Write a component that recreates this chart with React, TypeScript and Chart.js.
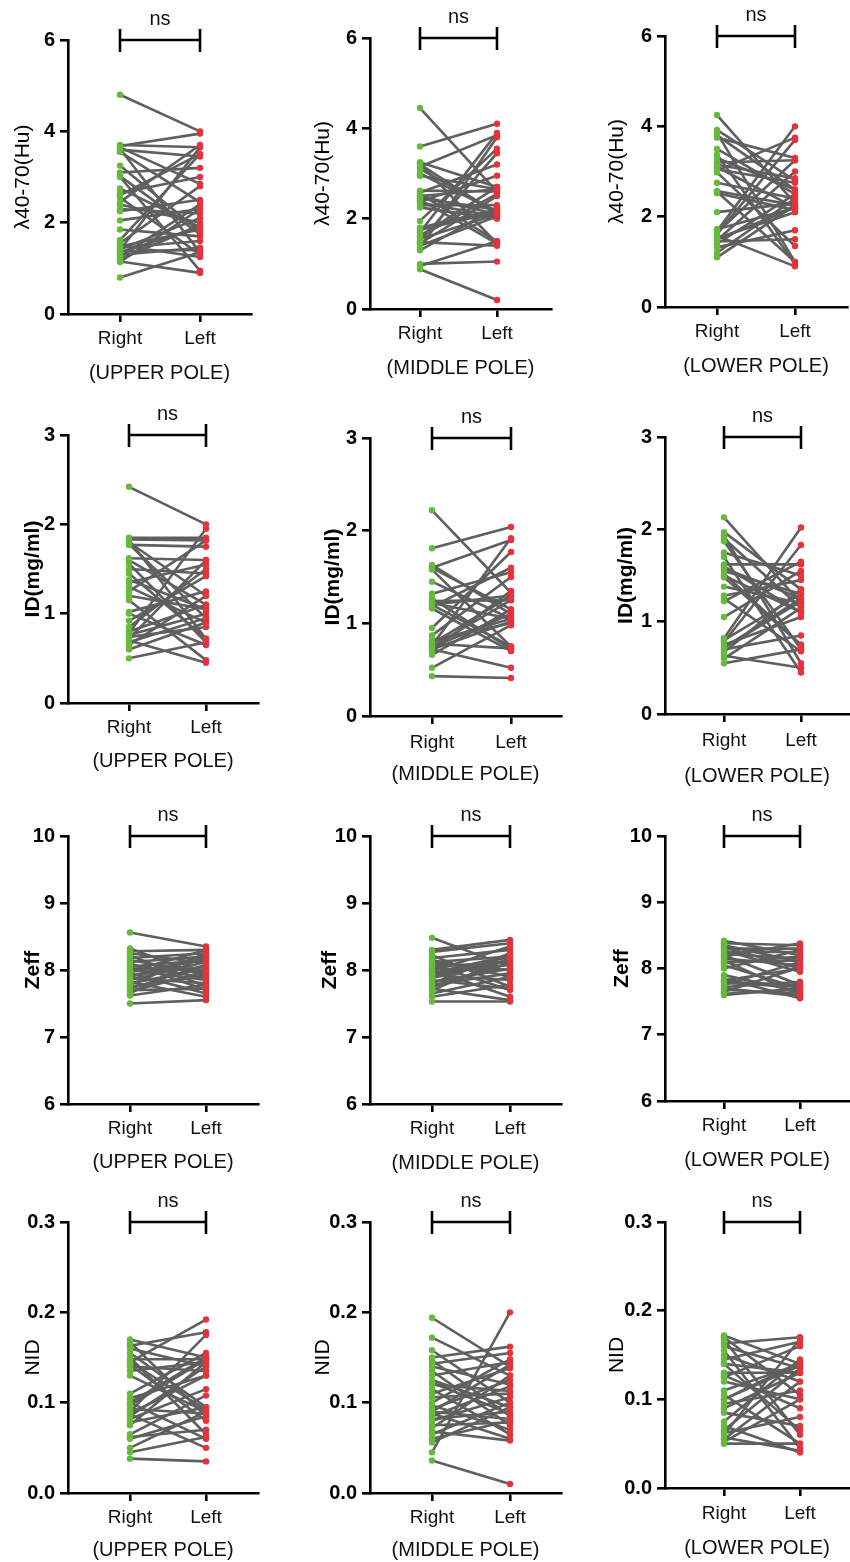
import React, { useEffect, useRef } from 'react';
import { Chart, registerables } from 'chart.js';

Chart.register(...registerables);

const categories = ['Right', 'Left'];
const poleLabels = ['(UPPER POLE)', '(MIDDLE POLE)', '(LOWER POLE)'];
const yTitles = ['λ40-70(Hu)', 'ID(mg/ml)', 'Zeff', 'NID'];
const sigLabel = 'ns';

const lambdaTicks = [0, 2, 4, 6];
const idTicks = [0, 1, 2, 3];
const zeffTicks = [6, 7, 8, 9, 10];
const nidTicks = [0, 0.1, 0.2, 0.3];

// λ40-70(Hu)
const lambdaUpperRight = [4.8, 3.7, 3.68, 3.65, 3.62, 3.6, 3.55, 3.25, 3.1, 3.0, 2.75, 2.65, 2.55, 2.45, 2.3, 2.25, 2.05, 1.85, 1.62, 1.55, 1.5, 1.45, 1.42, 1.4, 1.35, 1.3, 1.25, 1.2, 1.15, 1.14, 2.6, 3.02, 2.4, 1.48, 1.38, 0.8];
const lambdaUpperLeft = [4.0, 3.65, 3.95, 2.85, 1.35, 3.45, 2.45, 1.8, 3.2, 0.95, 1.9, 3.0, 1.3, 3.7, 2.2, 2.5, 2.3, 1.7, 3.5, 2.8, 1.25, 1.6, 2.1, 3.65, 1.9, 1.45, 2.4, 1.95, 0.9, 2.3, 3.5, 1.75, 2.0, 1.85, 1.4, 1.35];
const lambdaMiddleRight = [4.45, 3.6, 3.25, 3.22, 3.2, 3.15, 3.0, 2.95, 2.62, 2.58, 2.55, 2.5, 2.45, 2.42, 2.38, 2.35, 2.3, 1.95, 1.8, 1.75, 1.7, 1.62, 1.55, 1.5, 1.48, 1.45, 1.4, 1.35, 1.3, 1.0, 0.95, 0.88, 2.5, 1.6, 3.1, 2.25];
const lambdaMiddleLeft = [2.6, 4.1, 2.7, 1.45, 2.1, 3.85, 2.15, 2.65, 2.6, 3.2, 1.5, 2.1, 2.2, 1.45, 2.95, 2.05, 2.3, 3.55, 2.2, 2.15, 3.9, 2.7, 2.1, 3.45, 1.4, 2.5, 2.05, 3.8, 2.25, 1.05, 1.5, 0.2, 2.65, 2.55, 2.15, 2.0];
const lambdaLowerRight = [4.25, 3.92, 3.85, 3.8, 3.75, 3.5, 3.38, 3.2, 3.15, 3.1, 3.02, 2.98, 2.75, 2.57, 2.52, 2.1, 1.72, 1.68, 1.62, 1.58, 1.52, 1.48, 1.45, 1.4, 1.32, 1.2, 1.1, 3.3, 2.55, 1.65, 3.05, 1.5];
const lambdaLowerLeft = [2.3, 2.8, 1.0, 2.6, 3.3, 2.5, 0.95, 3.25, 2.85, 2.2, 3.75, 1.35, 2.4, 2.25, 2.15, 2.3, 2.2, 4.0, 3.7, 0.9, 2.1, 3.0, 1.5, 2.5, 1.7, 2.4, 2.25, 2.6, 1.0, 3.25, 2.75, 2.2];

// ID(mg/ml)
const idUpperRight = [2.42, 1.85, 1.83, 1.82, 1.8, 1.78, 1.77, 1.62, 1.56, 1.5, 1.38, 1.35, 1.3, 1.25, 1.15, 1.02, 1.0, 0.92, 0.8, 0.78, 0.76, 0.74, 0.72, 0.7, 0.65, 0.6, 0.5, 1.2, 0.85, 1.45, 0.68, 1.6];
const idUpperLeft = [2.0, 1.85, 1.82, 0.72, 1.2, 0.95, 1.75, 1.6, 0.68, 1.45, 1.05, 1.55, 0.9, 1.82, 0.48, 1.25, 0.65, 1.42, 1.1, 1.95, 1.0, 0.85, 1.6, 0.45, 1.2, 0.9, 0.68, 1.05, 1.5, 0.72, 0.95, 1.1];
const idMiddleRight = [2.22, 1.81, 1.63, 1.6, 1.58, 1.45, 1.32, 1.27, 1.24, 1.2, 1.18, 1.16, 0.95, 0.87, 0.82, 0.8, 0.78, 0.76, 0.74, 0.72, 0.7, 0.66, 0.52, 0.43, 1.22, 0.75, 1.2, 0.72, 1.6, 0.78];
const idMiddleLeft = [1.33, 2.04, 1.1, 1.9, 0.75, 1.05, 1.55, 0.72, 1.25, 1.3, 1.6, 0.7, 1.77, 1.5, 1.0, 1.05, 0.73, 1.92, 1.1, 1.02, 1.35, 1.15, 0.98, 0.41, 1.05, 1.25, 0.75, 0.52, 1.15, 1.3];
const idLowerRight = [2.13, 1.97, 1.93, 1.9, 1.87, 1.75, 1.7, 1.62, 1.58, 1.55, 1.5, 1.48, 1.38, 1.28, 1.25, 1.22, 1.05, 0.82, 0.8, 0.78, 0.75, 0.72, 0.7, 0.67, 0.63, 0.6, 0.55, 1.6, 0.72, 1.52];
const idLowerLeft = [1.2, 1.35, 0.55, 1.15, 0.7, 1.5, 0.45, 1.62, 1.25, 1.3, 1.1, 0.75, 1.2, 1.45, 0.68, 1.65, 1.55, 2.02, 1.3, 1.83, 1.05, 1.22, 0.85, 1.35, 0.5, 1.15, 0.7, 1.1, 1.25, 0.75];

// Zeff
const zeffUpperRight = [8.56, 8.32, 8.28, 8.25, 8.22, 8.18, 8.15, 8.12, 8.1, 8.05, 8.02, 8.0, 7.98, 7.95, 7.92, 7.9, 7.88, 7.85, 7.82, 7.8, 7.78, 7.75, 7.72, 7.7, 7.68, 7.65, 7.62, 7.5, 8.08, 7.97];
const zeffUpperLeft = [8.35, 7.9, 8.3, 8.1, 7.75, 8.25, 7.95, 8.2, 7.7, 8.15, 8.0, 7.85, 8.3, 7.65, 8.05, 8.18, 7.8, 8.12, 7.6, 8.02, 8.25, 7.92, 8.08, 7.72, 7.98, 8.22, 7.78, 7.55, 7.88, 8.15];
const zeffMiddleRight = [8.48, 8.3, 8.27, 8.22, 8.18, 8.15, 8.12, 8.08, 8.05, 8.02, 8.0, 7.98, 7.95, 7.92, 7.9, 7.88, 7.85, 7.82, 7.8, 7.78, 7.75, 7.72, 7.7, 7.65, 7.6, 7.53, 8.1, 7.95];
const zeffMiddleLeft = [8.05, 8.45, 8.4, 7.75, 8.3, 7.9, 8.2, 7.7, 8.12, 8.0, 7.6, 8.35, 8.08, 7.85, 8.2, 8.15, 7.72, 8.02, 8.25, 7.95, 8.1, 7.55, 8.18, 7.9, 7.78, 7.53, 8.0, 8.22];
const zeffLowerRight = [8.42, 8.38, 8.35, 8.32, 8.3, 8.27, 8.25, 8.22, 8.2, 8.18, 8.15, 8.12, 8.1, 8.05, 8.0, 7.9, 7.85, 7.82, 7.78, 7.75, 7.72, 7.7, 7.68, 7.65, 7.62, 7.6, 8.08, 7.8];
const zeffLowerLeft = [8.2, 8.35, 8.1, 8.0, 8.3, 7.95, 8.25, 8.15, 7.75, 8.38, 8.05, 7.6, 8.12, 7.7, 8.28, 7.65, 7.55, 8.0, 7.72, 8.1, 7.8, 7.58, 7.62, 8.02, 7.68, 7.7, 8.18, 7.75];

// NID
const nidUpperRight = [0.17, 0.167, 0.163, 0.16, 0.155, 0.15, 0.148, 0.145, 0.142, 0.14, 0.135, 0.13, 0.11, 0.105, 0.1, 0.097, 0.093, 0.09, 0.087, 0.085, 0.082, 0.078, 0.075, 0.065, 0.062, 0.06, 0.05, 0.045, 0.038, 0.088, 0.145, 0.1];
const nidUpperLeft = [0.15, 0.085, 0.178, 0.14, 0.095, 0.065, 0.148, 0.192, 0.08, 0.135, 0.145, 0.09, 0.155, 0.13, 0.06, 0.148, 0.088, 0.175, 0.05, 0.14, 0.115, 0.095, 0.145, 0.108, 0.07, 0.085, 0.09, 0.062, 0.035, 0.13, 0.092, 0.15];
const nidMiddleRight = [0.194, 0.172, 0.158, 0.15, 0.147, 0.143, 0.14, 0.135, 0.13, 0.125, 0.122, 0.115, 0.11, 0.106, 0.1, 0.097, 0.093, 0.09, 0.088, 0.085, 0.082, 0.08, 0.075, 0.072, 0.068, 0.065, 0.06, 0.056, 0.045, 0.036, 0.12, 0.09];
const nidMiddleLeft = [0.14, 0.13, 0.1, 0.162, 0.085, 0.155, 0.12, 0.075, 0.145, 0.095, 0.088, 0.065, 0.138, 0.11, 0.148, 0.07, 0.125, 0.082, 0.06, 0.118, 0.09, 0.106, 0.078, 0.13, 0.058, 0.1, 0.08, 0.095, 0.2, 0.01, 0.113, 0.142];
const nidLowerRight = [0.172, 0.17, 0.167, 0.163, 0.16, 0.155, 0.15, 0.145, 0.14, 0.13, 0.127, 0.125, 0.12, 0.11, 0.105, 0.1, 0.095, 0.09, 0.085, 0.075, 0.07, 0.065, 0.062, 0.06, 0.057, 0.055, 0.052, 0.05, 0.14, 0.1];
const nidLowerLeft = [0.14, 0.105, 0.06, 0.17, 0.135, 0.045, 0.12, 0.165, 0.065, 0.13, 0.09, 0.16, 0.1, 0.14, 0.05, 0.142, 0.11, 0.13, 0.07, 0.145, 0.04, 0.135, 0.08, 0.168, 0.042, 0.12, 0.1, 0.05, 0.13, 0.138];

const FONT = '"Liberation Sans", Arial, Helvetica, sans-serif';
const GREEN = '#65ba3e';
const RED = '#e5323b';
const GREY = '#5f5f5f';

const X_LABEL_SIZE = 19;
const POLE_SIZE = 20;
const Y_TICK_SIZE = 20;
const Y_TITLE_SIZE = 21;
const NS_SIZE = 20;

type Geom = {
  axisX: number; yTop: number; yBottom: number; xR: number; xL: number; axisEnd: number;
  labelDy: number; titleDy: number; yTitleX: number;
};

type PanelProps = {
  right: number[]; left: number[]; ticks: number[]; decimals: number;
  yTitle: string; yTitleBold: boolean; pole: string; g: Geom;
};

const TOP_PAD = 40;
const Y_W = 68;
const X_H = 84;

function Panel({ right, left, ticks, decimals, yTitle, yTitleBold, pole, g }: PanelProps) {
  const ref = useRef<HTMLCanvasElement>(null);
  const width = g.axisEnd - g.axisX + Y_W + 4;
  const height = g.yBottom - g.yTop + TOP_PAD + X_H;
  const canvasLeft = g.axisX - Y_W;
  const canvasTop = g.yTop - TOP_PAD;

  useEffect(() => {
    if (!ref.current) return;
    const unit = g.xL - g.xR;
    const xMin = 1 - (g.xR - g.axisX) / unit;
    const xMax = 1 + (g.axisEnd - g.xR) / unit;
    const yMin = ticks[0];
    const yMax = ticks[ticks.length - 1];

    const pairSets = right.map((r, i) => ({
      type: 'line' as const,
      data: [{ x: 1, y: r }, { x: 2, y: left[i] }],
      borderColor: GREY,
      borderWidth: 2.6,
      pointRadius: 0,
      order: 2,
    }));

    const bracket = {
      id: 'bracket',
      afterDraw(chart: any) {
        const ctx = chart.ctx;
        const xs = chart.scales.x;
        const ys = chart.scales.y;
        const y = ys.getPixelForValue(yMax);
        const x1 = xs.getPixelForValue(1);
        const x2 = xs.getPixelForValue(2);
        ctx.save();
        ctx.strokeStyle = '#000';
        ctx.lineWidth = 2.6;
        ctx.beginPath();
        ctx.moveTo(x1, y); ctx.lineTo(x2, y);
        ctx.moveTo(x1, y - 11); ctx.lineTo(x1, y + 12);
        ctx.moveTo(x2, y - 11); ctx.lineTo(x2, y + 12);
        ctx.stroke();
        ctx.fillStyle = '#111';
        ctx.font = `${NS_SIZE}px ${FONT}`;
        ctx.textAlign = 'center';
        ctx.textBaseline = 'middle';
        ctx.fillText(sigLabel, (x1 + x2) / 2, y - 21);
        ctx.restore();
      },
    };

    const chart = new Chart(ref.current, {
      type: 'scatter',
      data: {
        datasets: [
          { type: 'scatter', data: right.map((v) => ({ x: 1, y: v })), backgroundColor: GREEN, borderWidth: 0, pointRadius: 3.2, order: 0 } as any,
          { type: 'scatter', data: left.map((v) => ({ x: 2, y: v })), backgroundColor: RED, borderWidth: 0, pointRadius: 3.2, order: 0 } as any,
          ...pairSets,
        ],
      },
      options: {
        responsive: false,
        animation: false,
        devicePixelRatio: 1,
        layout: { padding: { top: TOP_PAD, left: 0, right: 4, bottom: 0 } },
        plugins: { legend: { display: false }, tooltip: { enabled: false } },
        scales: {
          x: {
            type: 'linear',
            min: xMin,
            max: xMax,
            afterBuildTicks: (s: any) => { s.ticks = [{ value: 1 }, { value: 2 }]; },
            afterFit: (s: any) => { s.height = X_H; },
            ticks: {
              callback: (v: any) => (v === 1 ? categories[0] : v === 2 ? categories[1] : ''),
              font: { family: FONT, size: X_LABEL_SIZE },
              color: '#111',
              padding: g.labelDy - 8 - X_LABEL_SIZE * 0.6,
              maxRotation: 0,
              autoSkip: false,
            },
            grid: { display: true, drawOnChartArea: false, drawTicks: true, tickLength: 8, color: '#000', lineWidth: 2.6 },
            border: { display: true, color: '#000', width: 2.6 },
            title: {
              display: true,
              text: pole,
              font: { family: FONT, size: POLE_SIZE },
              color: '#111',
              padding: { top: 0, bottom: X_H - g.titleDy - POLE_SIZE * 0.6 },
            },
          },
          y: {
            type: 'linear',
            min: yMin,
            max: yMax,
            afterBuildTicks: (s: any) => { s.ticks = ticks.map((v) => ({ value: v })); },
            afterFit: (s: any) => { s.width = Y_W; },
            ticks: {
              callback: (v: any) => Number(v).toFixed(decimals),
              font: { family: FONT, size: Y_TICK_SIZE, weight: 'bold' },
              color: '#000',
              padding: 5,
            },
            grid: { display: true, drawOnChartArea: false, drawTicks: true, tickLength: 8, color: '#000', lineWidth: 2.6 },
            border: { display: true, color: '#000', width: 2.6 },
            title: {
              display: true,
              text: yTitle,
              font: { family: FONT, size: Y_TITLE_SIZE, weight: yTitleBold ? 'bold' : 'normal' },
              color: '#000',
              padding: { top: g.yTitleX - Y_TITLE_SIZE * 0.6, bottom: 0 },
            },
          },
        },
      },
      plugins: [bracket],
    } as any);
    return () => chart.destroy();
  }, []);

  return (
    <canvas
      ref={ref}
      width={width}
      height={height}
      style={{ position: 'absolute', left: canvasLeft, top: canvasTop, width, height }}
    />
  );
}

const geoms: Geom[][] = [
  [
    { axisX: 68, yTop: 40, yBottom: 314, xR: 120, xL: 200, axisEnd: 251, labelDy: 25, titleDy: 59, yTitleX: 23 },
    { axisX: 370, yTop: 38, yBottom: 309, xR: 420, xL: 497, axisEnd: 551, labelDy: 25, titleDy: 59, yTitleX: 21 },
    { axisX: 665, yTop: 36, yBottom: 307, xR: 717, xL: 795, axisEnd: 847, labelDy: 25, titleDy: 59, yTitleX: 20 },
  ],
  [
    { axisX: 68, yTop: 435, yBottom: 703, xR: 129, xL: 206, axisEnd: 258, labelDy: 25, titleDy: 58, yTitleX: 33 },
    { axisX: 370, yTop: 438, yBottom: 716, xR: 432, xL: 511, axisEnd: 561, labelDy: 27, titleDy: 58, yTitleX: 31 },
    { axisX: 665, yTop: 437, yBottom: 714, xR: 724, xL: 801, axisEnd: 849, labelDy: 27, titleDy: 62, yTitleX: 29 },
  ],
  [
    { axisX: 68, yTop: 836, yBottom: 1104, xR: 130, xL: 206, axisEnd: 258, labelDy: 25, titleDy: 58, yTitleX: 33 },
    { axisX: 370, yTop: 836, yBottom: 1104, xR: 432, xL: 510, axisEnd: 561, labelDy: 25, titleDy: 59, yTitleX: 28 },
    { axisX: 665, yTop: 836, yBottom: 1101, xR: 724, xL: 800, axisEnd: 849, labelDy: 25, titleDy: 59, yTitleX: 25 },
  ],
  [
    { axisX: 68, yTop: 1222, yBottom: 1493, xR: 130, xL: 206, axisEnd: 258, labelDy: 25, titleDy: 57, yTitleX: 33 },
    { axisX: 370, yTop: 1222, yBottom: 1493, xR: 432, xL: 510, axisEnd: 561, labelDy: 25, titleDy: 57, yTitleX: 21 },
    { axisX: 665, yTop: 1222, yBottom: 1488, xR: 724, xL: 800, axisEnd: 849, labelDy: 26, titleDy: 60, yTitleX: 20 },
  ],
];

const rowsData = [
  { title: yTitles[0], bold: false, ticks: lambdaTicks, decimals: 0, sets: [[lambdaUpperRight, lambdaUpperLeft], [lambdaMiddleRight, lambdaMiddleLeft], [lambdaLowerRight, lambdaLowerLeft]] },
  { title: yTitles[1], bold: true, ticks: idTicks, decimals: 0, sets: [[idUpperRight, idUpperLeft], [idMiddleRight, idMiddleLeft], [idLowerRight, idLowerLeft]] },
  { title: yTitles[2], bold: true, ticks: zeffTicks, decimals: 0, sets: [[zeffUpperRight, zeffUpperLeft], [zeffMiddleRight, zeffMiddleLeft], [zeffLowerRight, zeffLowerLeft]] },
  { title: yTitles[3], bold: false, ticks: nidTicks, decimals: 1, sets: [[nidUpperRight, nidUpperLeft], [nidMiddleRight, nidMiddleLeft], [nidLowerRight, nidLowerLeft]] },
];

export default function App() {
  return (
    <div style={{ position: 'absolute', left: 0, top: 0, width: 850, height: 1562, background: '#fff', overflow: 'hidden' }}>
      {rowsData.map((row, ri) =>
        row.sets.map((pair, ci) => (
          <Panel
            key={`${ri}-${ci}`}
            right={pair[0]}
            left={pair[1]}
            ticks={row.ticks}
            decimals={row.decimals}
            yTitle={row.title}
            yTitleBold={row.bold}
            pole={poleLabels[ci]}
            g={geoms[ri][ci]}
          />
        ))
      )}
    </div>
  );
}
